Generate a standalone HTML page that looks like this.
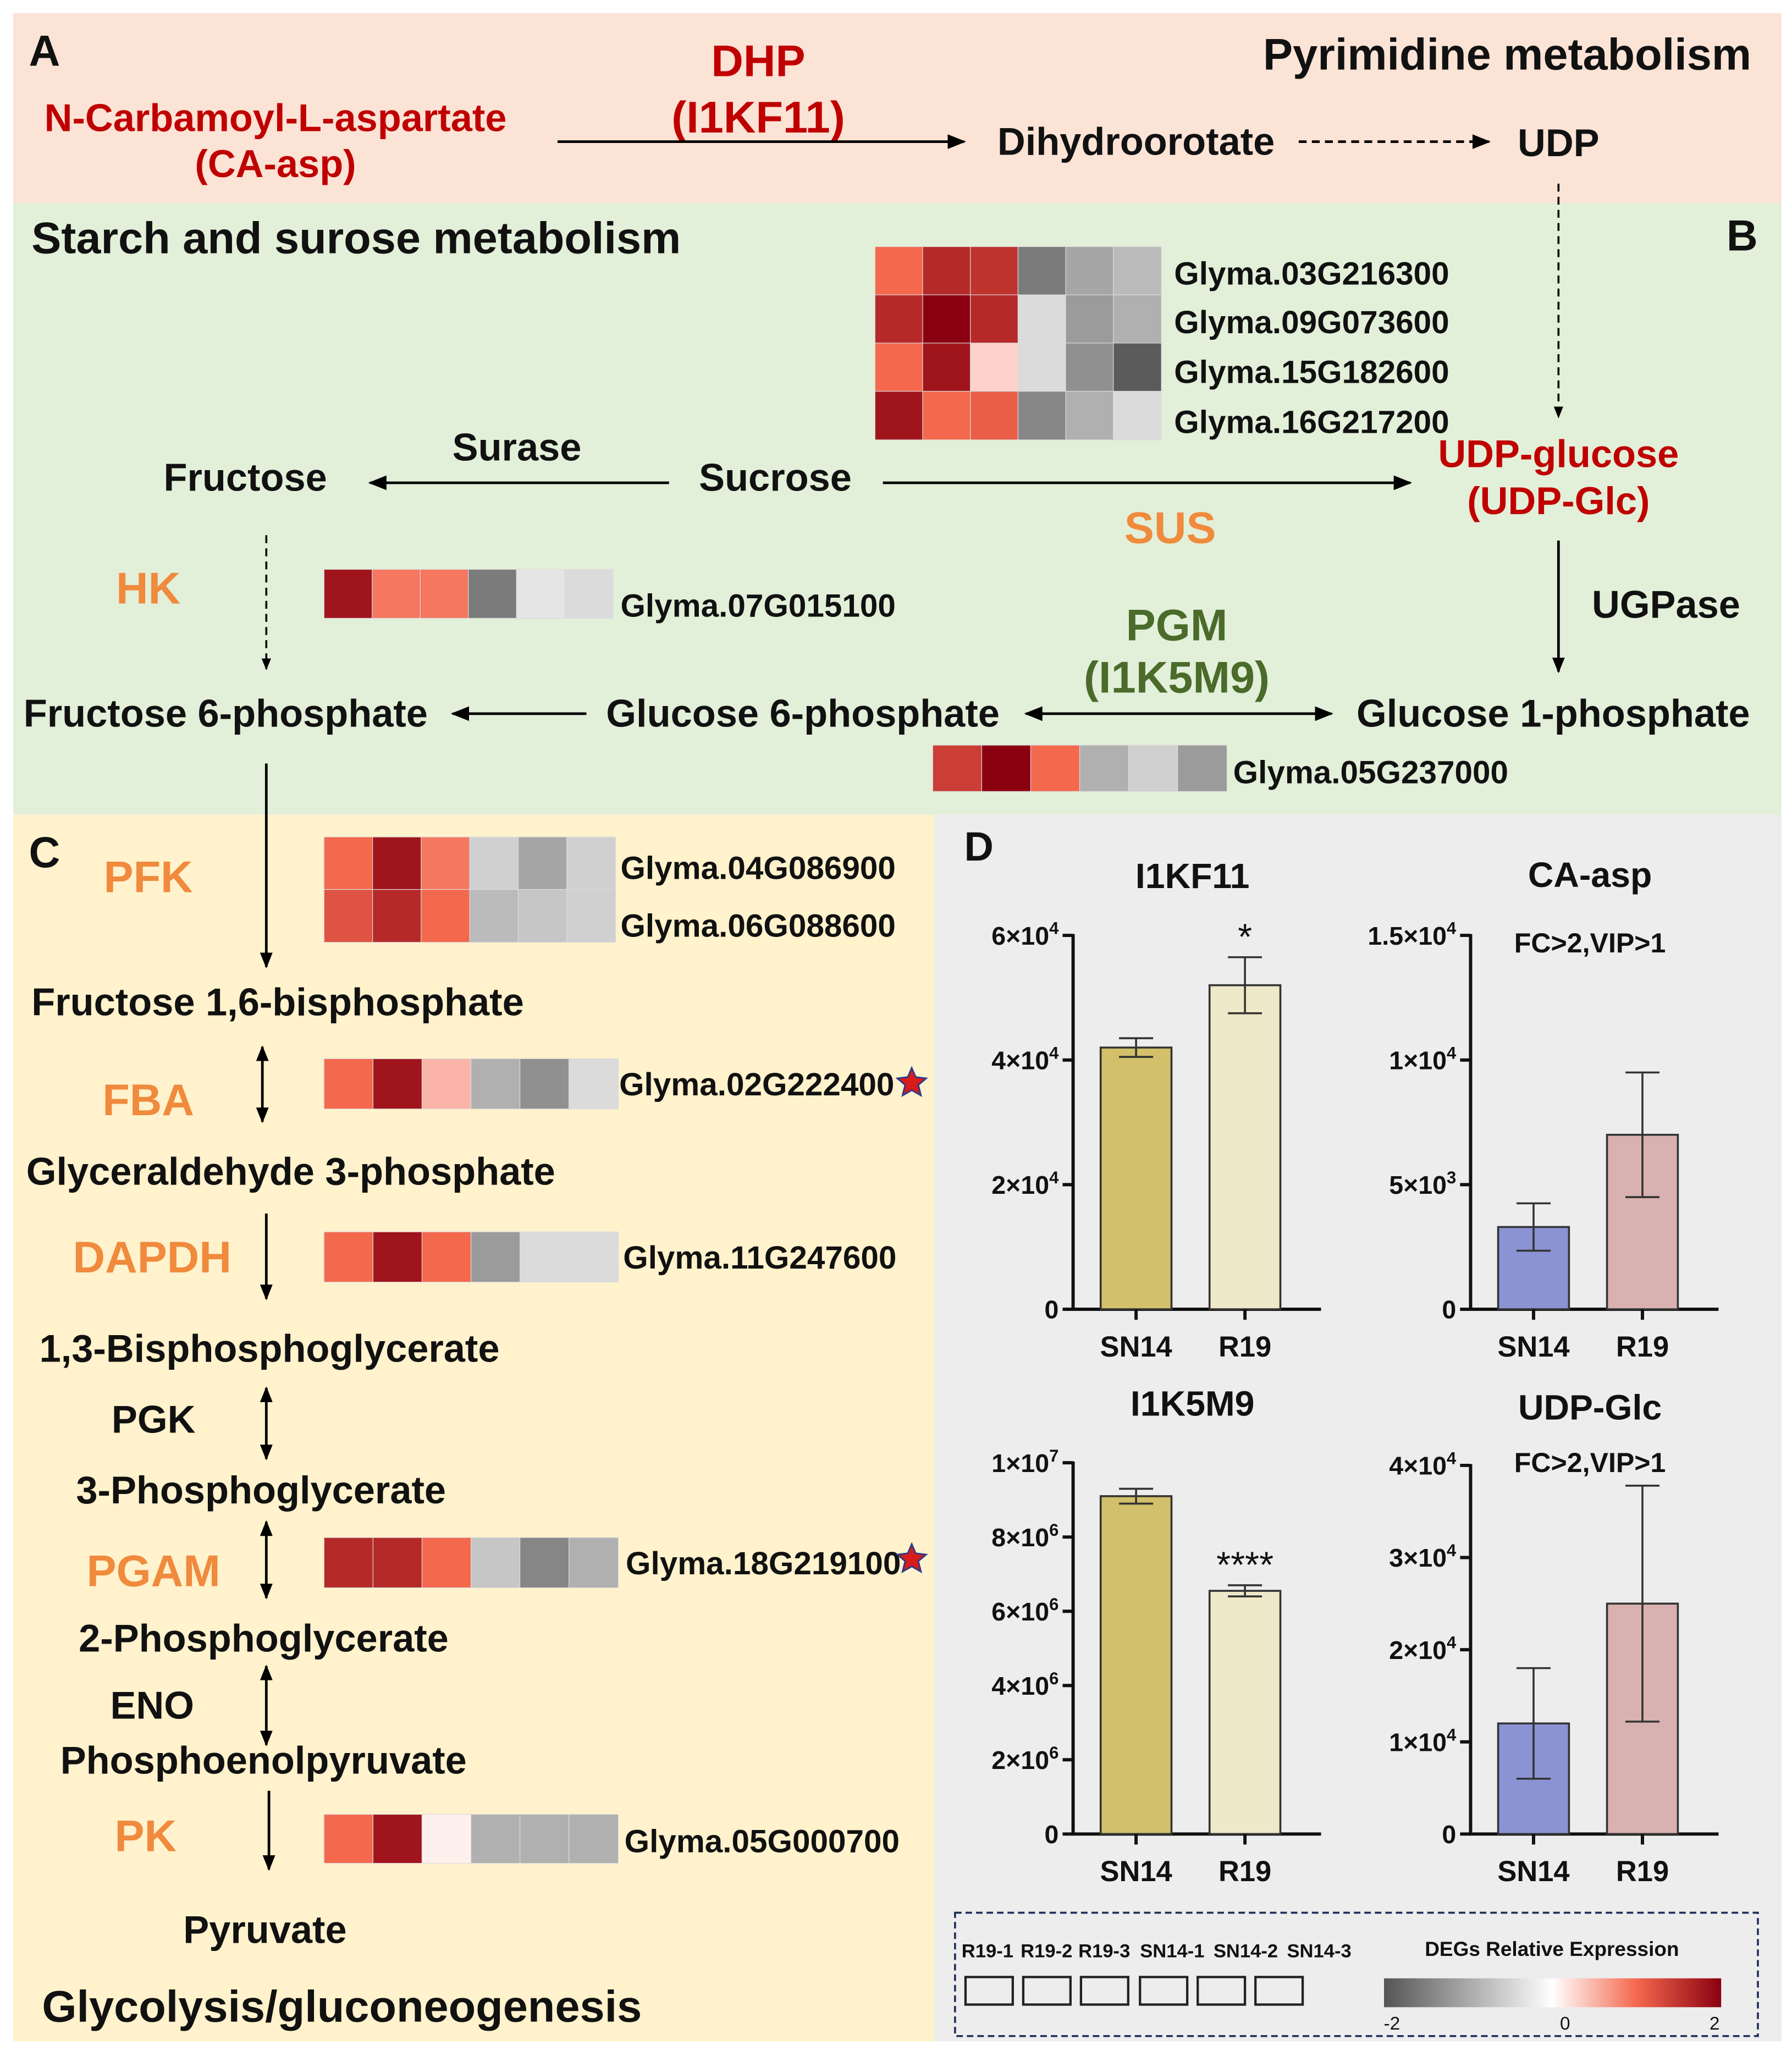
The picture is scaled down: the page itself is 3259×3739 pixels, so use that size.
<!DOCTYPE html>
<html><head><meta charset="utf-8"><style>
html,body{margin:0;padding:0;background:#fff;}
svg{display:block;font-family:"Liberation Sans",Arial,sans-serif;font-weight:bold;}
</style></head><body>
<svg id="fig" width="3259" height="3739" viewBox="0 0 1366 1567.2" xmlns="http://www.w3.org/2000/svg">
<defs>
<marker id="ah" viewBox="0 0 10 10" refX="9" refY="5" markerWidth="7" markerHeight="7" orient="auto-start-reverse"><path d="M0,1 L10,5 L0,9 z" fill="#000"/></marker>
<marker id="ahs" viewBox="0 0 10 10" refX="9" refY="5" markerWidth="6" markerHeight="6" orient="auto-start-reverse"><path d="M0,1 L10,5 L0,9 z" fill="#000"/></marker>
<linearGradient id="grad" x1="0" x2="1" y1="0" y2="0">
<stop offset="0" stop-color="#555"/><stop offset="0.5" stop-color="#fff"/><stop offset="0.75" stop-color="#f4684e"/><stop offset="1" stop-color="#8b0010"/></linearGradient>
</defs>
<rect x="10" y="10" width="1348" height="145" fill="#fbe3d6"/>
<rect x="10" y="155" width="1348" height="466" fill="#e2efd9"/>
<rect x="10" y="621" width="702" height="935" fill="#fff2cc"/>
<rect x="712" y="621" width="646" height="935" fill="#ededed"/>

<g font-size="29.5" fill="#111">
<text x="22" y="50" font-size="33">A</text>
<text x="1335" y="53" font-size="34" text-anchor="end">Pyrimidine metabolism</text>
<text x="210" y="100" text-anchor="middle" fill="#c00000">N-Carbamoyl-L-aspartate</text>
<text x="210" y="135" text-anchor="middle" fill="#c00000">(CA-asp)</text>
<text x="578" y="58" text-anchor="middle" fill="#c00000" font-size="34">DHP</text>
<text x="578" y="101" text-anchor="middle" fill="#c00000" font-size="34">(I1KF11)</text>
<line x1="425" y1="108" x2="735" y2="108" stroke="#000" stroke-width="2" marker-end="url(#ah)"/>
<text x="866" y="118" text-anchor="middle">Dihydroorotate</text>
<line x1="990" y1="108" x2="1135" y2="108" stroke="#000" stroke-width="2" stroke-dasharray="6,4" marker-end="url(#ah)"/>
<text x="1188" y="119" text-anchor="middle">UDP</text>
<line x1="1188" y1="140" x2="1188" y2="318" stroke="#000" stroke-width="1.5" stroke-dasharray="6,4" marker-end="url(#ahs)"/>

<text x="24" y="193" font-size="34">Starch and surose metabolism</text>
<text x="1328" y="191" font-size="33" text-anchor="middle">B</text>
<text x="187" y="374" text-anchor="middle">Fructose</text>
<text x="394" y="351" text-anchor="middle">Surase</text>
<text x="591" y="374" text-anchor="middle">Sucrose</text>
<line x1="510" y1="368" x2="282" y2="368" stroke="#000" stroke-width="2" marker-end="url(#ah)"/>
<line x1="673" y1="368" x2="1075" y2="368" stroke="#000" stroke-width="2" marker-end="url(#ah)"/>
<text x="1188" y="356" text-anchor="middle" fill="#c00000">UDP-glucose</text>
<text x="1188" y="392" text-anchor="middle" fill="#c00000">(UDP-Glc)</text>
<text x="892" y="414" text-anchor="middle" fill="#f08a3c" font-size="34">SUS</text>
<text x="113" y="460" text-anchor="middle" fill="#f08a3c" font-size="34">HK</text>
<line x1="203" y1="408" x2="203" y2="510" stroke="#000" stroke-width="1.5" stroke-dasharray="6,4" marker-end="url(#ahs)"/>
<text x="1270" y="471" text-anchor="middle">UGPase</text>
<line x1="1188" y1="412" x2="1188" y2="512" stroke="#000" stroke-width="2" marker-end="url(#ahs)"/>
<text x="897" y="488" text-anchor="middle" fill="#4a6b2a" font-size="34">PGM</text>
<text x="897" y="528" text-anchor="middle" fill="#4a6b2a" font-size="34">(I1K5M9)</text>
<text x="172" y="554" text-anchor="middle">Fructose 6-phosphate</text>
<line x1="447" y1="544" x2="345" y2="544" stroke="#000" stroke-width="2" marker-end="url(#ah)"/>
<text x="612" y="554" text-anchor="middle">Glucose 6-phosphate</text>
<line x1="782" y1="544" x2="1015" y2="544" stroke="#000" stroke-width="2" marker-start="url(#ah)" marker-end="url(#ah)"/>
<text x="1184" y="554" text-anchor="middle">Glucose 1-phosphate</text>
<line x1="203" y1="582" x2="203" y2="737" stroke="#000" stroke-width="2" marker-end="url(#ahs)"/>

<text x="22" y="661" font-size="33">C</text>
<text x="113" y="680" text-anchor="middle" fill="#f08a3c" font-size="34">PFK</text>
<text x="24" y="774">Fructose 1,6-bisphosphate</text>
<line x1="200" y1="798" x2="200" y2="855" stroke="#000" stroke-width="2" marker-start="url(#ahs)" marker-end="url(#ahs)"/>
<text x="113" y="850" text-anchor="middle" fill="#f08a3c" font-size="34">FBA</text>
<text x="20" y="903">Glyceraldehyde 3-phosphate</text>
<line x1="203" y1="925" x2="203" y2="990" stroke="#000" stroke-width="2" marker-end="url(#ahs)"/>
<text x="116" y="970" text-anchor="middle" fill="#f08a3c" font-size="34">DAPDH</text>
<text x="30" y="1038">1,3-Bisphosphoglycerate</text>
<text x="117" y="1092" text-anchor="middle">PGK</text>
<line x1="203" y1="1058" x2="203" y2="1112" stroke="#000" stroke-width="2" marker-start="url(#ahs)" marker-end="url(#ahs)"/>
<text x="58" y="1146">3-Phosphoglycerate</text>
<line x1="203" y1="1160" x2="203" y2="1218" stroke="#000" stroke-width="2" marker-start="url(#ahs)" marker-end="url(#ahs)"/>
<text x="117" y="1209" text-anchor="middle" fill="#f08a3c" font-size="34">PGAM</text>
<text x="60" y="1259">2-Phosphoglycerate</text>
<text x="116" y="1310" text-anchor="middle">ENO</text>
<line x1="203" y1="1270" x2="203" y2="1330" stroke="#000" stroke-width="2" marker-start="url(#ahs)" marker-end="url(#ahs)"/>
<text x="46" y="1352">Phosphoenolpyruvate</text>
<text x="111" y="1411" text-anchor="middle" fill="#f08a3c" font-size="34">PK</text>
<line x1="205" y1="1365" x2="205" y2="1425" stroke="#000" stroke-width="2" marker-end="url(#ahs)"/>
<text x="202" y="1481" text-anchor="middle">Pyruvate</text>
<text x="32" y="1541" font-size="34">Glycolysis/gluconeogenesis</text>
<text x="735" y="656" font-size="31">D</text>
</g>

<g font-size="24.5" fill="#111">
<text x="895" y="217">Glyma.03G216300</text>
<text x="895" y="254">Glyma.09G073600</text>
<text x="895" y="292">Glyma.15G182600</text>
<text x="895" y="330">Glyma.16G217200</text>
<text x="473" y="470">Glyma.07G015100</text>
<text x="940" y="597">Glyma.05G237000</text>
<text x="473" y="670">Glyma.04G086900</text>
<text x="473" y="714">Glyma.06G088600</text>
<text x="472" y="835">Glyma.02G222400</text>
<text x="475" y="967">Glyma.11G247600</text>
<text x="477" y="1200">Glyma.18G219100</text>
<text x="476" y="1412">Glyma.05G000700</text>
</g>
<g><polygon points="695,814 698,821 706,822 700,827 702,835 695,831 688,835 690,827 684,822 692,821" fill="#d81b1b" stroke="#2a3a8a" stroke-width="1.2"/></g>
<g><polygon points="695,1177 698,1184 706,1185 700,1190 702,1198 695,1194 688,1198 690,1190 684,1185 692,1184" fill="#d81b1b" stroke="#2a3a8a" stroke-width="1.2"/></g>

<g id="heatmaps"></g>
<g id="charts"></g>

<g>
<rect x="728" y="1458" width="612" height="94" fill="none" stroke="#1f2d5a" stroke-width="1.5" stroke-dasharray="5,3"/>
<g font-size="14.5" fill="#111">
<text x="733" y="1492">R19-1</text><text x="778" y="1492">R19-2</text><text x="822" y="1492">R19-3</text>
<text x="869" y="1492">SN14-1</text><text x="925" y="1492">SN14-2</text><text x="981" y="1492">SN14-3</text>
<text x="1183" y="1491" text-anchor="middle" font-size="15.5">DEGs Relative Expression</text>
<text x="1061" y="1547" text-anchor="middle" font-weight="normal" font-size="14">-2</text>
<text x="1193" y="1547" text-anchor="middle" font-weight="normal" font-size="14">0</text>
<text x="1307" y="1547" text-anchor="middle" font-weight="normal" font-size="14">2</text>
</g>
<g fill="none" stroke="#222" stroke-width="1.8">
<rect x="736" y="1507" width="36" height="21"/><rect x="780" y="1507" width="36" height="21"/><rect x="824" y="1507" width="36" height="21"/>
<rect x="869" y="1507" width="36" height="21"/><rect x="913" y="1507" width="36" height="21"/><rect x="957" y="1507" width="36" height="21"/>
</g>
<rect x="1055" y="1508" width="257" height="22" fill="url(#grad)"/>
</g>

<script>
// Heatmap data (relative expression, -2..2): columns R19-1..3, SN14-1..3
const hmSus = [[1,1.6,1.5,-1.1,-0.7,-0.5],[1.6,2,1.6,-0.2,-0.8,-0.6],[1,1.8,0.3,-0.2,-0.9,-1.4],[1.8,1,1.1,-1,-0.6,-0.2]];
const hmHk = [[1.8,0.9,0.9,-1.1,-0.1,-0.2]];
const hmPgm = [[1.4,2,1,-0.6,-0.3,-0.8]];
const hmPfk = [[1,1.8,0.9,-0.3,-0.7,-0.3],[1.2,1.6,1,-0.5,-0.4,-0.3]];
const hmFba = [[1,1.8,0.5,-0.6,-0.9,-0.2]];
const hmDapdh = [[1,1.8,1,-0.8,-0.2,-0.2]];
const hmPgam = [[1.6,1.6,1,-0.4,-1,-0.6]];
const hmPk = [[1,1.8,0.1,-0.6,-0.6,-0.6]];

// Bar chart data
const groups = ["SN14","R19"];
const i1kf11Vals = [42000,52000];
const i1kf11Err = [1500,4500];
const i1kf11Ticks = [0,20000,40000,60000];
const i1kf11Labels = [["0",""],["2×10","4"],["4×10","4"],["6×10","4"]];
const caaspVals = [3300,7000];
const caaspErr = [950,2500];
const caaspTicks = [0,5000,10000,15000];
const caaspLabels = [["0",""],["5×10","3"],["1×10","4"],["1.5×10","4"]];
const i1k5m9Vals = [9100000,6550000];
const i1k5m9Err = [200000,150000];
const i1k5m9Ticks = [0,2e6,4e6,6e6,8e6,1e7];
const i1k5m9Labels = [["0",""],["2×10","6"],["4×10","6"],["6×10","6"],["8×10","6"],["1×10","7"]];
const udpglcVals = [12000,25000];
const udpglcErr = [6000,12800];
const udpglcTicks = [0,10000,20000,30000,40000];
const udpglcLabels = [["0",""],["1×10","4"],["2×10","4"],["3×10","4"],["4×10","4"]];

const NS="http://www.w3.org/2000/svg";
function mk(tag,attrs,parent){const e=document.createElementNS(NS,tag);for(const k in attrs)e.setAttribute(k,attrs[k]);parent.appendChild(e);return e;}
function lerp(a,b,t){return a.map((v,i)=>Math.round(v+(b[i]-v)*t));}
function colorOf(v){
  let c;
  if(v<=0){c=lerp([240,240,240],[70,70,70],Math.min(1,-v/1.6));}
  else if(v<=1){c=lerp([255,255,255],[244,104,78],v);}
  else {c=lerp([244,104,78],[139,0,16],Math.min(1,v-1));}
  return "rgb("+c.join(",")+")";
}
const hmG=document.getElementById('heatmaps');
function heat(data,x0,y0,w,h,name){
  const g=mk('g',{},hmG);
  
  
  const cw=w/data[0].length, ch=h/data.length;
  data.forEach((row,r)=>row.forEach((v,c)=>{
    const cell=mk('rect',{x:x0+c*cw,y:y0+r*ch,width:cw+0.3,height:ch+0.3,fill:colorOf(v),stroke:'#dcdcdc','stroke-width':0.5},g);
    
    
  }));
}
heat(hmSus,667,188,218,147,'heatmap-sus');
heat(hmHk,247,434,220,37,'heatmap-hk');
heat(hmPgm,711,568,224,35,'heatmap-pgm');
heat(hmPfk,247,638,222,80,'heatmap-pfk');
heat(hmFba,247,807,224,38,'heatmap-fba');
heat(hmDapdh,247,939,224,38,'heatmap-dapdh');
heat(hmPgam,247,1172,224,38,'heatmap-pgam');
heat(hmPk,247,1383,224,37,'heatmap-pk');

const chG=document.getElementById('charts');
function chart(o){
  const g=mk('g',{},chG);
  
  
  const max=o.ticks[o.ticks.length-1];
  const y=v=>o.y0-(v/max)*(o.y0-o.yTop);
  const xc=[o.ax+48,o.ax+131];
  mk('line',{x1:o.ax,y1:o.yTop-1,x2:o.ax,y2:o.y0+1,stroke:'#111','stroke-width':2.5},g);
  mk('line',{x1:o.ax-1,y1:o.y0,x2:o.ax+189,y2:o.y0,stroke:'#111','stroke-width':2.5},g);
  o.ticks.forEach((t,i)=>{
    mk('line',{x1:o.ax-8,y1:y(t),x2:o.ax,y2:y(t),stroke:'#111','stroke-width':2.5},g);
    const tx=mk('text',{x:o.ax-11,y:y(t)+7,'text-anchor':'end','font-size':19.5,fill:'#111'},g);
    
    
    tx.appendChild(document.createTextNode(o.labels[i][0]));
    if(o.labels[i][1]){const s=mk('tspan',{dy:-8,'font-size':13},tx);s.textContent=o.labels[i][1];}
  });
  groups.forEach((gname,i)=>{
    const b=mk('rect',{x:xc[i]-27,y:y(o.vals[i]),width:54,height:o.y0-y(o.vals[i]),fill:o.colors[i],stroke:'#333','stroke-width':1.5},g);
    
    
    const hi=y(o.vals[i]+o.err[i]), lo=y(o.vals[i]-o.err[i]);
    const eb=mk('path',{d:`M${xc[i]},${hi}V${lo}M${xc[i]-13},${hi}H${xc[i]+13}M${xc[i]-13},${lo}H${xc[i]+13}`,stroke:'#333','stroke-width':1.5,fill:'none'},g);
    
    
    mk('line',{x1:xc[i],y1:o.y0,x2:xc[i],y2:o.y0+8,stroke:'#111','stroke-width':2.5},g);
    const xl=mk('text',{x:xc[i],y:o.y0+36,'text-anchor':'middle','font-size':22,fill:'#111'},g);
    
    
    xl.textContent=gname;
  });
  const ti=mk('text',{x:o.ax+91,y:o.titleY,'text-anchor':'middle','font-size':27,fill:'#111'},g);
  
  
  ti.textContent=o.title;
  if(o.note){const n=mk('text',{x:o.ax+91,y:o.noteY,'text-anchor':'middle','font-size':21,fill:'#111'},g);
    
    
    n.textContent=o.note;}
  if(o.star){const s=mk('text',{x:xc[1],y:y(o.vals[1]+o.err[1])-6,'text-anchor':'middle','font-size':28,'font-weight':'normal',fill:'#111'},g);
    
    
    s.textContent=o.star;}
}
chart({name:'chart-i1kf11',title:'I1KF11',titleY:677,ax:818,y0:998,yTop:713,ticks:i1kf11Ticks,labels:i1kf11Labels,vals:i1kf11Vals,err:i1kf11Err,colors:['#d2c06a','#efe8c9'],star:'*'});
chart({name:'chart-ca-asp',title:'CA-asp',titleY:676,note:'FC>2,VIP>1',noteY:726,ax:1121,y0:998,yTop:713,ticks:caaspTicks,labels:caaspLabels,vals:caaspVals,err:caaspErr,colors:['#8b93d4','#d9b1b1']});
chart({name:'chart-i1k5m9',title:'I1K5M9',titleY:1079,ax:818,y0:1398,yTop:1115,ticks:i1k5m9Ticks,labels:i1k5m9Labels,vals:i1k5m9Vals,err:i1k5m9Err,colors:['#d2c06a','#efe8c9'],star:'****'});
chart({name:'chart-udp-glc',title:'UDP-Glc',titleY:1082,note:'FC>2,VIP>1',noteY:1122,ax:1121,y0:1398,yTop:1117,ticks:udpglcTicks,labels:udpglcLabels,vals:udpglcVals,err:udpglcErr,colors:['#8b93d4','#d9b1b1']});
</script>
</svg>
</body></html>
